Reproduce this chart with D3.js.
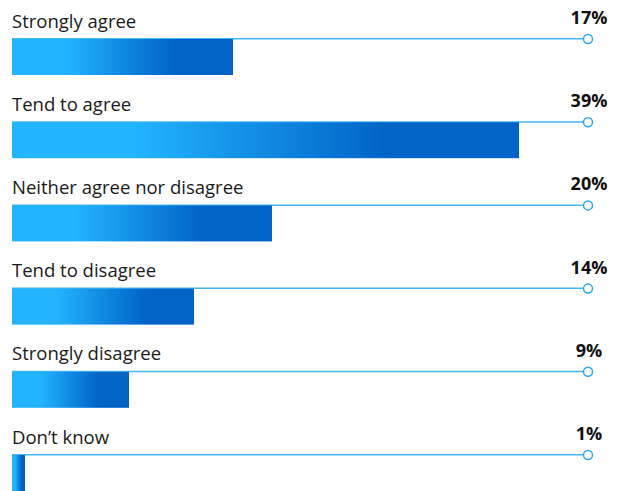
<!DOCTYPE html>
<html>
<head>
<meta charset="utf-8">
<script src="https://cdn.jsdelivr.net/npm/d3@7"></script>
<style>
  html, body { margin: 0; padding: 0; background: #fff; }
  svg { display: block; }
</style>
</head>
<body>
<div id="chart"></div>
<script>
// Survey responses, share of respondents (%)
const categories = [
  "Strongly agree",
  "Tend to agree",
  "Neither agree nor disagree",
  "Tend to disagree",
  "Strongly disagree",
  "Don\u2019t know"
];
const values = [17, 39, 20, 14, 9, 1];
const valueLabels = ["17%", "39%", "20%", "14%", "9%", "1%"];

const width = 621, height = 491;
const barHeight = 36;
const guideEnd = 588;

const svg = d3.select("#chart").append("svg")
  .attr("width", width)
  .attr("height", height);

// Horizontal gradient shared by every bar (light cyan to deep blue)
const grad = svg.append("defs").append("linearGradient")
  .attr("id", "barGrad")
  .attr("x1", "0").attr("y1", "0").attr("x2", "1").attr("y2", "0");
[[0, "#22b4ff"], [0.24, "#22b4ff"], [0.74, "#0063c6"], [1, "#0063c6"]]
  .forEach(([o, c]) => grad.append("stop").attr("offset", o).attr("stop-color", c));

const x = d3.scaleLinear().domain([0, 40]).range([12, 532]);
const y = d3.scalePoint().domain(categories).range([39, 455]);

const rows = svg.selectAll("g.row")
  .data(categories.map((c, i) => ({ cat: c, v: values[i], label: valueLabels[i] })))
  .join("g")
  .attr("class", "row")
  .attr("transform", d => `translate(0,${y(d.cat)})`);

// Guide line running along the top of each bar
rows.append("line")
  .attr("x1", x(0)).attr("x2", guideEnd)
  .attr("y1", -0.25).attr("y2", -0.25)
  .attr("stroke", "#45b8f5")
  .attr("stroke-width", 1.5);

rows.append("rect")
  .attr("x", x(0))
  .attr("y", 0)
  .attr("width", d => x(d.v) - x(0))
  .attr("height", barHeight)
  .attr("fill", "url(#barGrad)");

// End marker
rows.append("circle")
  .attr("cx", guideEnd).attr("cy", 0)
  .attr("r", 4.5)
  .attr("fill", "#fff")
  .attr("stroke", "#2aaaf2")
  .attr("stroke-width", 1.5);

// Category label
rows.append("text")
  .attr("x", x(0))
  .attr("y", -11.5)
  .attr("font-family", "'Open Sans', sans-serif")
  .attr("font-size", 18.5)
  .attr("fill", "#1a1a1a")
  .text(d => d.cat);

// Value label centred over the marker
rows.append("text")
  .attr("x", guideEnd + 1)
  .attr("y", -15)
  .attr("text-anchor", "middle")
  .attr("font-family", "'Open Sans', sans-serif")
  .attr("font-weight", "bold")
  .attr("font-size", 18)
  .attr("fill", "#111")
  .text(d => d.label);
</script>
</body>
</html>
